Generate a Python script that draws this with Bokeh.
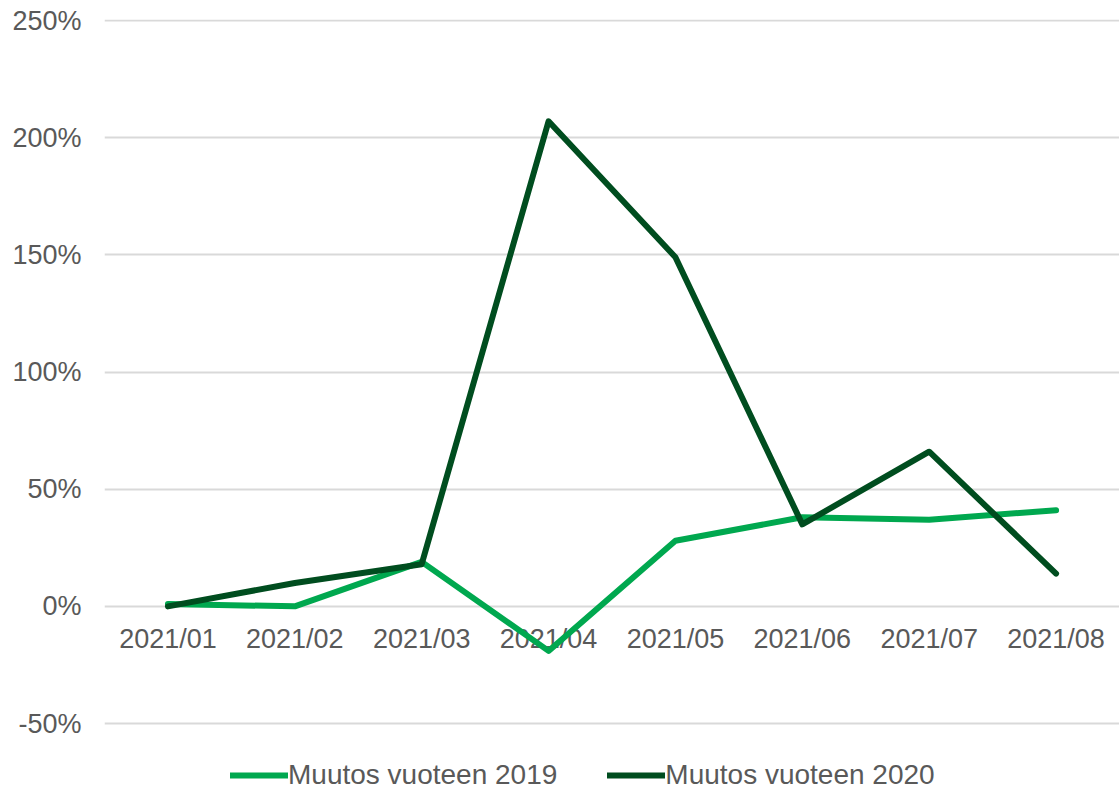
from bokeh.plotting import figure
from bokeh.models import Range1d, Legend, LegendItem, FixedTicker, CustomJSTickFormatter, ColumnDataSource
from bokeh.embed import file_html
from bokeh.resources import INLINE
from bokeh.core.properties import value

months = ["2021/01", "2021/02", "2021/03", "2021/04", "2021/05", "2021/06", "2021/07", "2021/08"]
change_2019 = [1, 0, 19, -19, 28, 38, 37, 41]
change_2020 = [0, 10, 18, 207, 149, 35, 66, 14]
y_ticks = [-50, 0, 50, 100, 150, 200, 250]

FONT = "Liberation Sans"
TXT = "#595959"

# the frame reaches to the bottom of the page so that the legend can sit under the -50% line
p = figure(x_range=months, y_range=Range1d(-79.0, 250.43), width=1119, height=791,
           output_backend="svg", toolbar_location=None,
           min_border_left=104, min_border_right=0, min_border_top=19, min_border_bottom=0)
p.outline_line_color = None
p.xgrid.grid_line_color = None
p.ygrid.grid_line_color = "#d9d9d9"
p.ygrid.grid_line_width = 2

p.yaxis.ticker = FixedTicker(ticks=y_ticks)
p.yaxis.formatter = CustomJSTickFormatter(code="return tick + '%';")
p.yaxis.axis_line_color = None
p.yaxis.major_tick_line_color = None
p.yaxis.minor_tick_line_color = None
p.yaxis.major_tick_out = 0
p.yaxis.major_tick_in = 0
p.yaxis.major_label_text_font = FONT
p.yaxis.major_label_text_font_size = "27px"
p.yaxis.major_label_text_color = TXT
p.yaxis.major_label_standoff = 23

p.xaxis.visible = False

# category labels sit on the 0% line, as in the original chart
lab = ColumnDataSource(dict(x=months, y=[0] * len(months), t=months))
p.text(x="x", y="y", text="t", source=lab, text_font=value(FONT), text_font_size="27px",
       text_color=TXT, text_align="center", text_baseline="alphabetic", y_offset=33)

r1 = p.line(months, change_2019, line_color="#00a84f", line_width=6,
            line_cap="round", line_join="round")
r2 = p.line(months, change_2020, line_color="#004d1f", line_width=6,
            line_cap="round", line_join="round")

legend = Legend(items=[LegendItem(label="Muutos vuoteen 2019", renderers=[r1]),
                       LegendItem(label="Muutos vuoteen 2020", renderers=[r2])],
                orientation="horizontal", location=(126, 0))
legend.label_text_font = FONT
legend.label_text_font_size = "28px"
legend.label_text_color = TXT
legend.glyph_width = 58
legend.label_standoff = 0
legend.spacing = 50
legend.border_line_color = None
legend.background_fill_alpha = 0
legend.margin = 0
legend.padding = 0
p.add_layout(legend, "center")

open("out.html", "w").write(file_html(p, INLINE))
